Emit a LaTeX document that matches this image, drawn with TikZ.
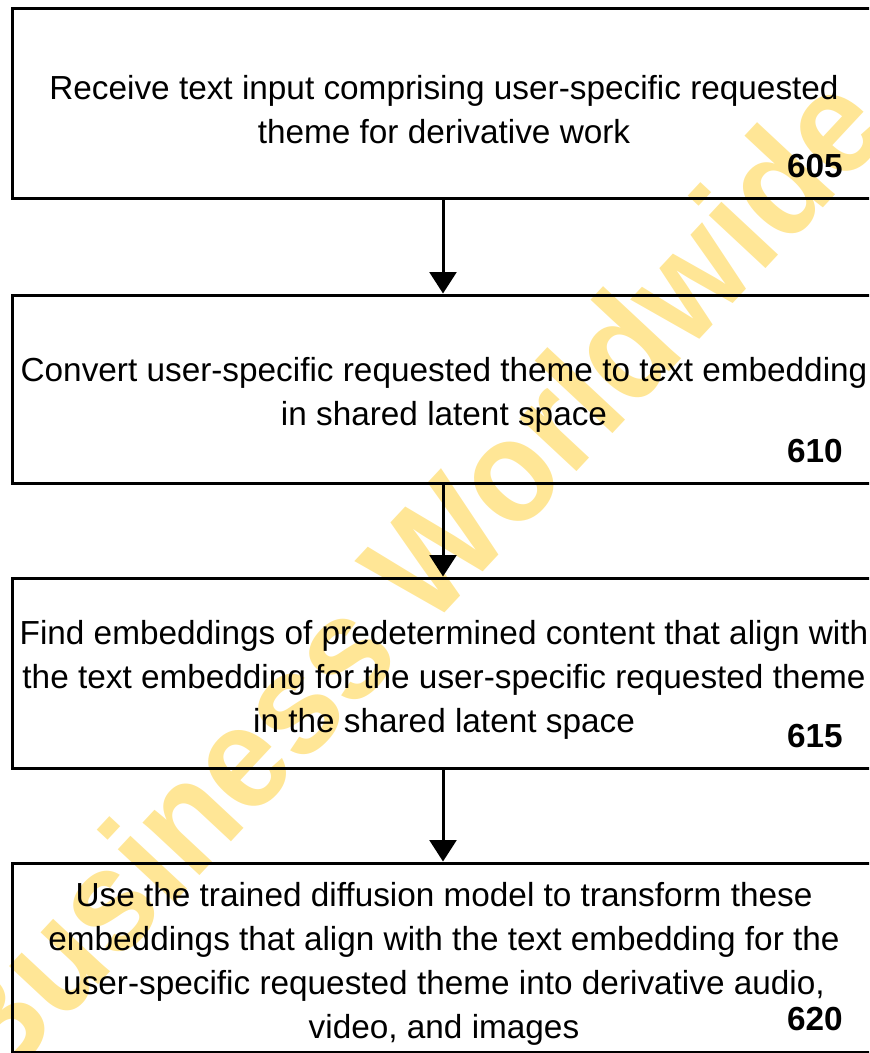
\documentclass[tikz,border=0pt]{standalone}
\usepackage{fontspec}
\setmainfont{Liberation Sans}
\usetikzlibrary{arrows.meta}
\definecolor{wmcol}{RGB}{255,230,150}
\begin{document}
\begin{tikzpicture}[x=0.75pt,y=-0.75pt,
  stepbox/.style={draw=black,line width=2.25pt,minimum width=646.5pt,inner sep=0pt},
  txt/.style={align=center,font=\fontsize{25}{33}\selectfont,inner sep=0pt},
  num/.style={font=\fontsize{25}{30}\selectfont\bfseries,anchor=base east,inner sep=0pt},
  flow/.style={line width=2.25pt,-{Triangle[width=20pt,length=16pt]}}]
\useasboundingbox (0,0) rectangle (869,1053);
\clip (0,0) rectangle (869,1053);
\node[stepbox,minimum height=142.5pt] (b1) at (443,103) {};
\node[stepbox,minimum height=141pt] (b2) at (443,389) {};
\node[stepbox,minimum height=142.5pt] (b3) at (443,673) {};
\node[stepbox,minimum height=141.75pt] (b4) at (443,957.5) {};
\node[txt] (t1) at (444,110) {Receive text input comprising user-specific requested\\theme for derivative work};
\node[txt] (t2) at (444,395) {Convert user-specific requested theme to text embedding\\in shared latent space};
\node[txt] (t3) at (444,680) {Find embeddings of predetermined content that align with\\the text embedding for the user-specific requested theme\\in the shared latent space};
\node[txt] (t4) at (444,964) {Use the trained diffusion model to transform these\\embeddings that align with the text embedding for the\\user-specific requested theme into derivative audio,\\video, and images};
\node[num] (n1) at (843,177) {605};
\node[num] (n2) at (843,462) {610};
\node[num] (n3) at (843,747) {615};
\node[num] (n4) at (843,1030) {620};
\draw[flow] (b1.south) -- (b2.north);
\draw[flow] (b2.south) -- (b3.north);
\draw[flow] (b3.south) -- (b4.north);
\begin{scope}[blend mode=multiply]
\node[rotate=47,text=wmcol,font=\fontsize{110}{110}\selectfont\bfseries,inner sep=0pt] (wm) at (405,579) {\scalebox{0.92}[1]{Business Worldwide}};
\end{scope}
\end{tikzpicture}
\end{document}
